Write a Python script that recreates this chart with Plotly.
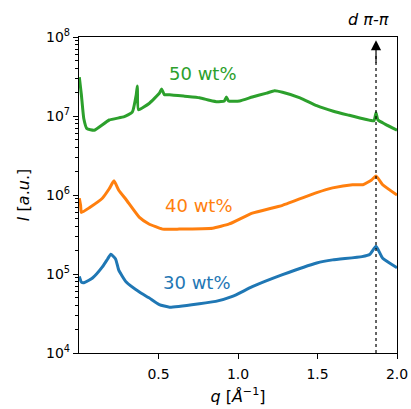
import math
import plotly.graph_objects as go

q_50 = [0.002, 0.015, 0.03, 0.05, 0.095, 0.19, 0.285, 0.335, 0.36, 0.367, 0.374, 0.443, 0.506, 0.52, 0.537,
        0.57, 0.664, 0.758, 0.82, 0.87, 0.914, 0.927, 0.94, 1.01, 1.09, 1.18, 1.23, 1.28, 1.39, 1.495,
        1.60, 1.70, 1.80, 1.855, 1.868, 1.88, 1.925, 2.0]
I_50 = [3.1e7, 1.86e7, 9.3e6, 6.9e6, 6.6e6, 8.9e6, 9.8e6, 1.12e7, 1.86e7, 2.4e7, 1.2e7, 1.45e7, 1.95e7, 2.2e7, 1.86e7,
        1.86e7, 1.78e7, 1.7e7, 1.58e7, 1.51e7, 1.55e7, 1.74e7, 1.55e7, 1.55e7, 1.74e7, 1.95e7, 2.09e7, 2.0e7, 1.7e7, 1.35e7,
        1.15e7, 1.02e7, 9.1e6, 8.7e6, 1.1e7, 8.9e6, 7.9e6, 6.6e6]

q_40 = [0.002, 0.01, 0.015, 0.065, 0.147, 0.19, 0.22, 0.25, 0.297, 0.38, 0.44, 0.525, 0.63, 0.84, 0.945,
        1.09, 1.28, 1.495, 1.595, 1.72, 1.785, 1.84, 1.868, 1.91, 2.0]
I_40 = [9.1e5, 7.4e5, 6.0e5, 6.9e5, 9.1e5, 1.2e6, 1.51e6, 1.15e6, 8.7e5, 5.2e5, 4.3e5, 3.7e5, 3.7e5, 3.8e5, 4.3e5,
        5.9e5, 7.4e5, 1.07e6, 1.23e6, 1.35e6, 1.35e6, 1.55e6, 1.74e6, 1.35e6, 1.0e6]

q_30 = [0.002, 0.015, 0.035, 0.085, 0.147, 0.18, 0.2, 0.23, 0.25, 0.297, 0.38, 0.44, 0.505, 0.57, 0.757,
        0.86, 0.965, 1.09, 1.28, 1.495, 1.595, 1.78, 1.83, 1.868, 1.91, 2.0]
I_30 = [9.3e4, 7.9e4, 7.8e4, 8.9e4, 1.23e5, 1.55e5, 1.78e5, 1.55e5, 1.12e5, 7.9e4, 5.9e4, 5.0e4, 4.1e4, 3.8e4, 4.2e4,
        4.5e4, 5.2e4, 6.9e4, 9.8e4, 1.38e5, 1.51e5, 1.66e5, 1.78e5, 2.24e5, 1.58e5, 1.2e5]

labels = ["30 wt%", "40 wt%", "50 wt%"]
label_q = [0.74, 0.757, 0.78]
label_I = [7.7e4, 7.4e5, 3.5e7]
colors = ["#1f77b4", "#ff7f0e", "#2ca02c"]

x_tickvals = [0.5, 1.0, 1.5, 2.0]
x_ticktext = ["0.5", "1.0", "1.5", "2.0"]
y_tickvals = [1e4, 1e5, 1e6, 1e7, 1e8]
y_ticktext = ["10<sup>4</sup>", "10<sup>5</sup>", "10<sup>6</sup>", "10<sup>7</sup>", "10<sup>8</sup>"]
y_minor = [m * d for d in [1e4, 1e5, 1e6, 1e7] for m in range(2, 10)]
pi_q = 1.868
y_top = 1e8

fig = go.Figure()
for q, I, c in [(q_30, I_30, colors[0]), (q_40, I_40, colors[1]), (q_50, I_50, colors[2])]:
    fig.add_trace(go.Scatter(x=q, y=I, mode="lines", line=dict(color=c, width=3, shape="spline", smoothing=0.4),
                             showlegend=False, hoverinfo="skip"))

for t, xq, yI, c in zip(labels, label_q, label_I, colors):
    fig.add_annotation(x=xq, y=math.log10(yI), xref="x", yref="y", text=t, showarrow=False,
                       font=dict(family="DejaVu Sans", size=18, color=c))

# dotted vertical line
fig.add_shape(type="line", xref="x", yref="y", x0=pi_q, x1=pi_q, y0=1e4, y1=6e7,
              line=dict(color="black", width=1.2, dash="dot"))
# arrowhead
fig.add_annotation(x=pi_q, y=math.log10(y_top) - 0.04, xref="x", yref="y", axref="pixel", ayref="pixel",
                   ax=0, ay=24, showarrow=True, arrowhead=2, arrowsize=1.7, arrowwidth=1.2,
                   arrowcolor="black", text="")
fig.add_annotation(x=pi_q, y=1.0, xref="x", yref="paper", yanchor="bottom", yshift=6, xshift=-8,
                   text="<i>d π-π</i>", showarrow=False,
                   font=dict(family="DejaVu Sans", size=16, color="black"))

fig.update_layout(
    width=411, height=409,
    margin=dict(l=79, r=14, t=37, b=56),
    plot_bgcolor="white", paper_bgcolor="white",
    font=dict(family="DejaVu Sans", size=14, color="black"),
)
fig.update_xaxes(range=[0, 2.0], tickvals=x_tickvals, ticktext=x_ticktext, ticks="outside", ticklen=5,
                 tickwidth=1, tickcolor="black", showline=True, linecolor="black", linewidth=1.2,
                 mirror=True, showgrid=False, zeroline=False, automargin=False, ticklabelstandoff=3,
                 title=dict(text="<i>q</i> [<i>Å</i><sup>−1</sup>]", font=dict(size=16), standoff=9))
fig.update_yaxes(type="log", range=[4, 8], tickvals=y_tickvals, ticktext=y_ticktext, ticks="outside",
                 ticklen=5, tickwidth=1, tickcolor="black", showline=True, linecolor="black", linewidth=1.2,
                 mirror=True, showgrid=False, zeroline=False, automargin=False,
                 minor=dict(tickvals=y_minor, ticks="outside", ticklen=3, tickcolor="black", showgrid=False),
                 title=dict(text="<i>I</i> [<i>a</i>.<i>u</i>.]", font=dict(size=16), standoff=12))

fig.write_html("out.html", config={"displayModeBar": False},
               post_script="document.body.style.margin='0';document.body.style.padding='0';")
